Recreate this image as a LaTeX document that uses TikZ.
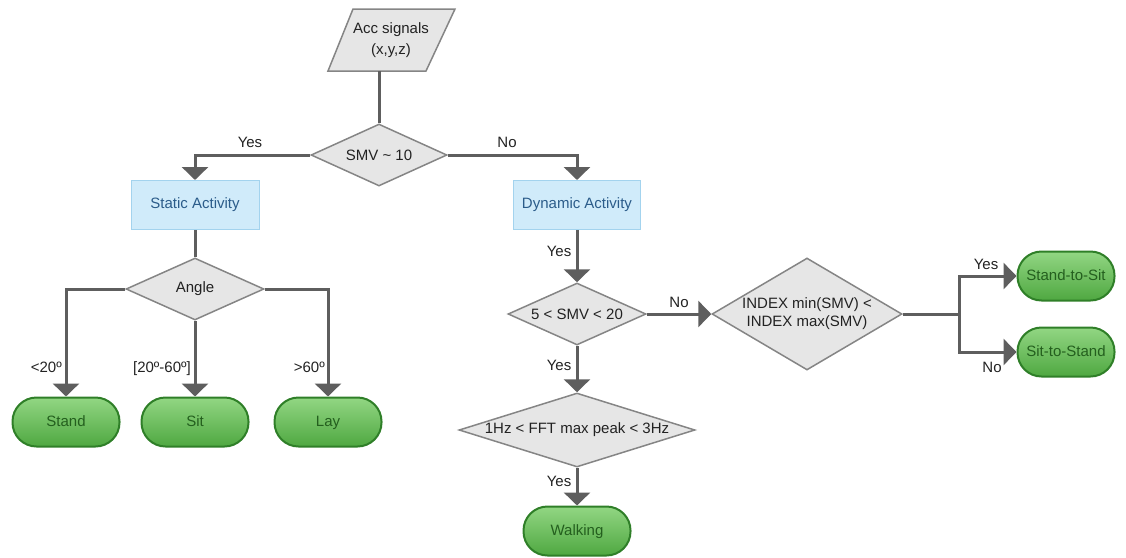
\documentclass[tikz,border=0pt]{standalone}
\usepackage{fontspec}
\setmainfont{Liberation Sans}
\usetikzlibrary{shapes.geometric,arrows.meta}
\definecolor{lin}{HTML}{5E5E5E}
\definecolor{dfill}{HTML}{E6E6E6}
\definecolor{dborder}{HTML}{858585}
\definecolor{bfill}{HTML}{D0EBFA}
\definecolor{bborder}{HTML}{A3D3EE}
\definecolor{btext}{HTML}{2B5C8A}
\definecolor{gtop}{HTML}{92D683}
\definecolor{gbot}{HTML}{4FA841}
\definecolor{gborder}{HTML}{2F7F28}
\definecolor{gtext}{HTML}{245F1E}
\definecolor{txt}{HTML}{222222}
\begin{document}
\begin{tikzpicture}[x=1pt,y=-1pt,font=\fontsize{15}{18}\selectfont,
  dia/.style={diamond,draw=dborder,fill=dfill,line width=1.5pt,inner sep=0pt,text=txt,align=center},
  parashape/.style={draw=dborder,fill=dfill,line width=1.5pt,line join=miter},
  actbox/.style={rectangle,draw=bborder,fill=bfill,line width=1pt,text=btext,minimum width=128pt,minimum height=49pt},
  term/.style={rectangle,rounded corners=24pt,draw=gborder,line width=2pt,top color=gtop,bottom color=gbot,text=gtext,minimum width=107pt,minimum height=49pt,inner sep=0pt,text height=11pt,text depth=3pt},
  con/.style={draw=lin,line width=3pt,line join=miter},
  arr/.style={con,-{Triangle[width=26pt,length=13pt]}},
  lab/.style={text=txt,inner sep=1pt,text height=11pt,text depth=3pt}]
\useasboundingbox (0,0) rectangle (1126,557);
% input parallelogram
\draw[parashape] (328,71) -- (353,9) -- (455,9) -- (426,71) -- cycle;
\node[text=txt,align=center] (acc) at (391,40) {Acc signals\\[3pt](x,y,z)};
\coordinate (accb) at (379,71);
% nodes
\node[dia,minimum width=136pt,minimum height=62pt,aspect=2.2] (smv) at (379,155) {SMV \textasciitilde{} 10};
\node[actbox] (stat) at (195,205) {Static Activity};
\node[actbox,minimum width=127pt] (dyn) at (577,205) {Dynamic Activity};
\node[dia,minimum width=138pt,minimum height=62pt,aspect=2.2] (angle) at (195,289) {Angle};
\node[term] (stand) at (66,422) {Stand};
\node[term] (sit) at (195,422) {Sit};
\node[term] (lay) at (328,422) {Lay};
\node[dia,minimum width=138pt,minimum height=62pt,aspect=2.2] (smv2) at (577,314) {5 < SMV < 20};
\node[dia,minimum width=190pt,minimum height=112pt,aspect=1.7] (idx) at (807,314) {INDEX min(SMV) <\\INDEX max(SMV)};
\node[term,minimum width=97pt] (sts) at (1066,276) {Stand-to-Sit};
\node[term,minimum width=97pt] (sist) at (1066,352) {Sit-to-Stand};
\node[dia,minimum width=236pt,minimum height=74pt,aspect=3.2] (fft) at (577,430) {1Hz < FFT max peak < 3Hz};
\node[term] (walk) at (577,531) {Walking};
\coordinate (split) at (959,314);
% connectors
\draw[con] (accb) -- (smv.north);
\draw[arr] (smv.west) -| (stat.north);
\draw[arr] (smv.east) -| (dyn.north);
\draw[con] (stat.south) -- (angle.north);
\draw[arr] (angle.west) -| (stand.north);
\draw[arr] (angle.south) -- (sit.north);
\draw[arr] (angle.east) -| (lay.north);
\draw[arr] (dyn.south) -- (smv2.north);
\draw[arr] (smv2.east) -- (idx.west);
\draw[arr] (smv2.south) -- (fft.north);
\draw[arr] (fft.south) -- (walk.north);
\draw[con] (idx.east) -- (split);
\draw[arr] (split) |- (sts.west);
\draw[arr] (split) |- (sist.west);
% labels
\node[lab] (l1) at (250,143) {Yes};
\node[lab] (l2) at (507,143) {No};
\node[lab,anchor=east] (l3) at (63,368) {<20º};
\node[lab,anchor=east] (l4) at (192,368) {[20º-60º]};
\node[lab,anchor=east] (l5) at (326,368) {>60º};
\node[lab] (l6) at (559,252) {Yes};
\node[lab] (l7) at (679,303) {No};
\node[lab] (l8) at (559,366) {Yes};
\node[lab] (l9) at (559,482) {Yes};
\node[lab] (l10) at (986,265) {Yes};
\node[lab] (l11) at (992,368) {No};
\end{tikzpicture}
\end{document}
